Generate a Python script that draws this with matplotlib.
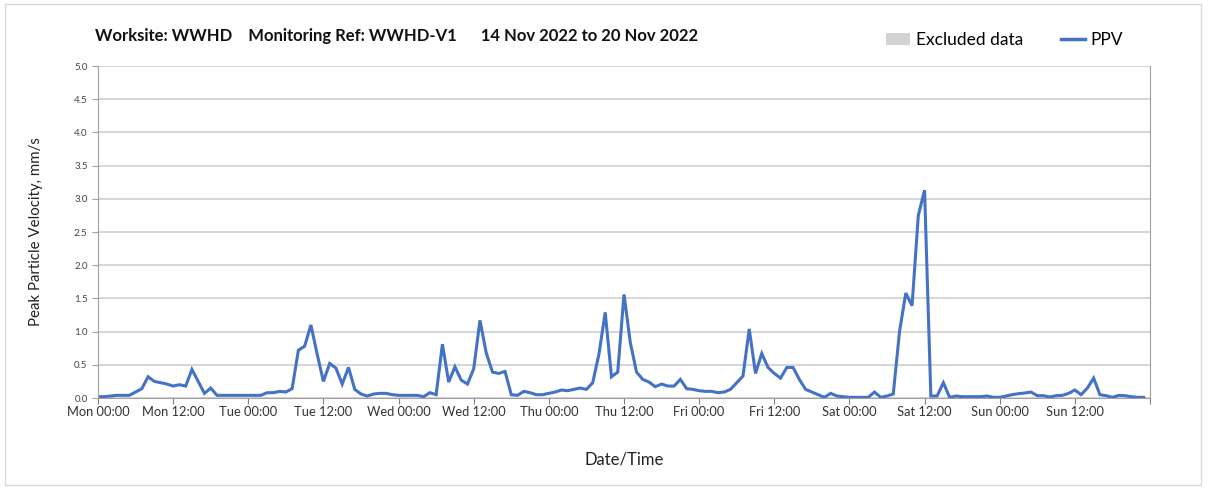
import numpy as np
import pandas as pd
import matplotlib
matplotlib.use("Agg")
import matplotlib.pyplot as plt
import matplotlib.dates as mdates
from matplotlib.patches import Patch, Rectangle
from matplotlib.lines import Line2D

# hourly PPV readings, Mon 14 Nov 2022 00:00 to Sun 20 Nov 2022 23:00
mon = [0.02, 0.02, 0.03, 0.04, 0.04, 0.04, 0.09, 0.14, 0.32, 0.25, 0.23, 0.21,
       0.18, 0.20, 0.18, 0.43, 0.25, 0.07, 0.15, 0.04, 0.04, 0.04, 0.04, 0.04]
tue = [0.04, 0.04, 0.04, 0.08, 0.08, 0.10, 0.09, 0.14, 0.72, 0.78, 1.10, 0.66,
       0.25, 0.52, 0.45, 0.21, 0.46, 0.13, 0.06, 0.03, 0.06, 0.07, 0.07, 0.05]
wed = [0.04, 0.04, 0.04, 0.04, 0.02, 0.08, 0.05, 0.81, 0.24, 0.47, 0.27, 0.21,
       0.44, 1.17, 0.68, 0.39, 0.37, 0.40, 0.05, 0.04, 0.10, 0.08, 0.05, 0.05]
thu = [0.07, 0.09, 0.12, 0.11, 0.13, 0.15, 0.13, 0.23, 0.66, 1.29, 0.32, 0.39,
       1.56, 0.84, 0.39, 0.28, 0.24, 0.17, 0.21, 0.18, 0.18, 0.28, 0.14, 0.13]
fri = [0.11, 0.10, 0.10, 0.08, 0.09, 0.13, 0.23, 0.33, 1.04, 0.37, 0.67, 0.46,
       0.37, 0.30, 0.46, 0.46, 0.28, 0.13, 0.09, 0.05, 0.01, 0.07, 0.03, 0.02]
sat = [0.01, 0.01, 0.01, 0.01, 0.09, 0.01, 0.03, 0.06, 1.00, 1.58, 1.39, 2.75,
       3.13, 0.03, 0.03, 0.23, 0.01, 0.03, 0.02, 0.02, 0.02, 0.02, 0.03, 0.01]
sun = [0.01, 0.03, 0.05, 0.065, 0.075, 0.09, 0.035, 0.035, 0.015, 0.035, 0.04, 0.07,
       0.12, 0.05, 0.15, 0.30, 0.05, 0.035, 0.01, 0.04, 0.035, 0.02, 0.01, 0.01]

ppv = mon + tue + wed + thu + fri + sat + sun
times = pd.date_range("2022-11-14 00:00", periods=len(ppv), freq="h")

title = "Worksite: WWHD    Monitoring Ref: WWHD-V1      14 Nov 2022 to 20 Nov 2022"

plt.rcParams["font.family"] = ["Lato", "DejaVu Sans"]

W, H = 1208, 490
fig = plt.figure(figsize=(W / 100, H / 100), dpi=100)
ax = fig.add_axes([98 / W, 1 - 398 / H, (1150 - 98) / W, (398 - 66) / H])

ax.plot(times, ppv, color="#4472C4", lw=2.2, solid_joinstyle="miter")

ax.set_xlim(pd.Timestamp("2022-11-14"), pd.Timestamp("2022-11-21"))
ax.set_ylim(0, 5)
ax.set_yticks(np.arange(0, 5.01, 0.5))
ax.yaxis.set_major_formatter(matplotlib.ticker.FormatStrFormatter("%.1f"))

# ticks every 12 h, no label on the closing Mon 00:00
ticks = pd.date_range("2022-11-14", "2022-11-21", freq="12h")
ax.set_xticks(ticks)
ax.set_xticklabels([t.strftime("%a %H:%M") for t in ticks[:-1]] + [""])
ax.xaxis.set_minor_locator(mdates.DayLocator())

# gridlines: horizontal every 0.5, vertical at midnight
ax.grid(axis="y", which="major", color="#cfcfcf", lw=1.2)
ax.grid(axis="x", which="minor", color="#d9d9d9", lw=1.0)
ax.set_axisbelow(True)

for s in ["left", "bottom", "right"]:
    ax.spines[s].set_color("#a0a0a0")
ax.spines["top"].set_visible(False)

ax.tick_params(axis="x", which="major", length=4, color="#808080", labelsize=9.3,
               labelcolor="#333333", pad=2)
ax.tick_params(axis="x", which="minor", length=0)
ax.tick_params(axis="y", length=4, color="#a0a0a0", labelsize=7, labelcolor="#444444")

ax.set_ylabel("Peak Particle Velocity, mm/s", fontsize=10.8, color="#222222", labelpad=22)
ax.set_xlabel("Date/Time", fontsize=12, color="#222222", labelpad=24)

fig.text(95 / W, 1 - 36 / H, title, fontsize=12, fontweight="bold",
         va="center", ha="left", color="#111111")

handles = [Patch(facecolor="#d3d3d3", edgecolor="none"),
           Line2D([0], [0], color="#4472C4", lw=2.5)]
fig.legend(handles, ["Excluded data", "PPV"], loc="center right",
           bbox_to_anchor=(1123 / W, 1 - 40 / H), ncol=2, frameon=False,
           fontsize=12.5, handlelength=1.4, handletextpad=0.3, columnspacing=2.2,
           borderaxespad=0, borderpad=0)

fig.patches.append(Rectangle((5 / W, 5 / H), (1201 - 5) / W, (486 - 5) / H,
                             transform=fig.transFigure, fill=False,
                             edgecolor="#d9d9d9", lw=1))

fig.savefig("out.png", dpi=100)
